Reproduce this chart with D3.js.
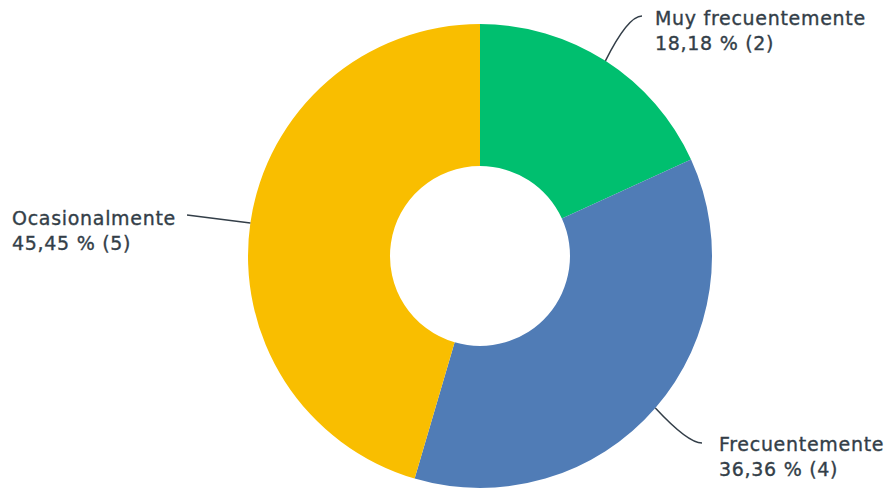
<!DOCTYPE html>
<html>
<head>
<meta charset="utf-8">
<script src="https://cdn.jsdelivr.net/npm/d3@7"></script>
<style>
  html, body { margin: 0; padding: 0; background: #fff; }
  svg { display: block; }
  .lbl { font-family: "DejaVu Sans", sans-serif; font-size: 19px; letter-spacing: 0.7px; fill: #333e48; stroke: #333e48; stroke-width: 0.35px; }
</style>
</head>
<body>
<svg id="chart" width="891" height="490"></svg>
<script>
// Response categories and counts
const categories = ["Muy frecuentemente", "Frecuentemente", "Ocasionalmente"];
const counts = [2, 4, 5];
const percentLabels = ["18,18 %", "36,36 %", "45,45 %"];
const colors = ["#00bf6f", "#507cb6", "#f9be00"];

// Where each callout ends (elbow of its leader line) and how its text is anchored
const calloutEnds = [[642, 16], [702, 443], [187, 215]];
const calloutText = [[655, 25, "start"], [719, 451, "start"], [12, 225, "start"]];
const calloutBend = [-14, -14, 0];

const W = 891, H = 490;
const cx = 480, cy = 256, rOuter = 232, rInner = 90;

const svg = d3.select("#chart");
const g = svg.append("g").attr("transform", `translate(${cx},${cy})`);

const pie = d3.pie().sort(null).value(d => d)(counts);
const arc = d3.arc().innerRadius(rInner).outerRadius(rOuter);

g.selectAll("path.slice")
  .data(pie)
  .join("path")
  .attr("class", "slice")
  .attr("d", arc)
  .attr("fill", (d, i) => colors[i]);

// Leader lines start at the outer edge on each slice's mid-angle
const lines = svg.append("g");
pie.forEach((d, i) => {
  const a = (d.startAngle + d.endAngle) / 2;
  const sx = cx + rOuter * Math.sin(a);
  const sy = cy - rOuter * Math.cos(a);
  const [ex, ey] = calloutEnds[i];
  const p = d3.path();
  p.moveTo(sx, sy);
  if (calloutBend[i] !== 0) {
    p.quadraticCurveTo(ex + calloutBend[i], ey, ex, ey);
  } else {
    p.lineTo(ex, ey);
  }
  lines.append("path")
    .attr("d", p.toString())
    .attr("fill", "none")
    .attr("stroke", "#333e48")
    .attr("stroke-width", 1.5);

  const [tx, ty, anchor] = calloutText[i];
  const t = svg.append("text")
    .attr("class", "lbl")
    .attr("x", tx).attr("y", ty)
    .attr("text-anchor", anchor);
  t.append("tspan").attr("x", tx).text(categories[i]);
  t.append("tspan").attr("x", tx).attr("dy", 25).text(`${percentLabels[i]} (${counts[i]})`);
});
</script>
</body>
</html>
